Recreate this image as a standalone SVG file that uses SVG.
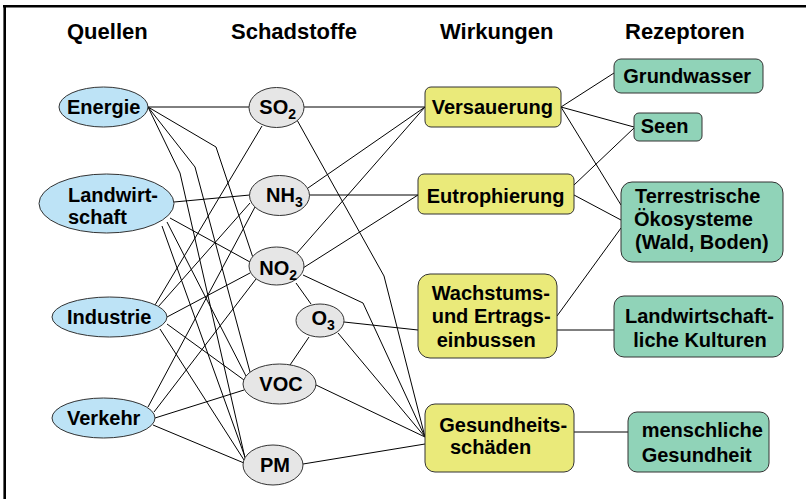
<svg xmlns="http://www.w3.org/2000/svg" width="811" height="499" viewBox="0 0 811 499">
<style>
text{font-family:"Liberation Sans",Arial,sans-serif;font-weight:bold;fill:#000}
.h{font-size:22px}
.t{font-size:20px}
.s{font-size:14px}
.src{fill:#bde3f6;stroke:#333;stroke-width:1}
.pol{fill:#e6e6e6;stroke:#333;stroke-width:1}
.eff{fill:#eaea7a;stroke:#333;stroke-width:1}
.rec{fill:#90d3b8;stroke:#333;stroke-width:1}
#connectors line,#connectors polyline{stroke:#000;stroke-width:1;fill:none}
</style>
<rect x="0" y="0" width="811" height="499" fill="#fff"/>
<g id="frame">
<line x1="3" y1="6.2" x2="806" y2="6.2" stroke="#000" stroke-width="2.6"/>
<line x1="4.7" y1="5" x2="4.7" y2="499" stroke="#000" stroke-width="2.6"/>
</g>
<g id="headers">
<text class="h" x="67" y="39">Quellen</text>
<text class="h" x="231" y="39">Schadstoffe</text>
<text class="h" x="440" y="39">Wirkungen</text>
<text class="h" x="625" y="39">Rezeptoren</text>
</g>
<g id="connectors">
<line x1="148" y1="107" x2="249" y2="107"/>
<polyline points="148,107 216,147 252.6,256.5"/>
<polyline points="148,107 195,167 250,372"/>
<polyline points="148,107 180,173 245,458"/>
<line x1="174" y1="202" x2="250" y2="195"/>
<line x1="170" y1="218" x2="250" y2="262"/>
<line x1="167" y1="222" x2="246" y2="376"/>
<line x1="162" y1="226" x2="245" y2="457"/>
<line x1="155" y1="305" x2="262" y2="126"/>
<line x1="158" y1="307" x2="250" y2="203"/>
<line x1="167" y1="317" x2="250" y2="273"/>
<line x1="167" y1="324" x2="244" y2="380"/>
<line x1="160" y1="329" x2="244" y2="460"/>
<line x1="148" y1="407" x2="255" y2="207"/>
<line x1="154" y1="412" x2="256" y2="279"/>
<line x1="155" y1="418" x2="244" y2="390"/>
<line x1="153" y1="425" x2="244" y2="463"/>
<line x1="304" y1="107" x2="425" y2="107"/>
<line x1="308" y1="188" x2="425" y2="107"/>
<line x1="297" y1="253" x2="425" y2="107"/>
<line x1="309" y1="195" x2="418" y2="195"/>
<line x1="303" y1="268" x2="418" y2="195"/>
<polyline points="297,120 384,276 425,437"/>
<polyline points="303,275 363,303 425,437"/>
<line x1="296" y1="283" x2="311" y2="304"/>
<line x1="290" y1="365" x2="309" y2="337"/>
<line x1="344" y1="322" x2="418" y2="330"/>
<line x1="338" y1="333" x2="425" y2="437"/>
<line x1="316" y1="385" x2="425" y2="437"/>
<line x1="303" y1="464" x2="425" y2="444"/>
<line x1="561" y1="107" x2="614" y2="73"/>
<line x1="561" y1="107" x2="634" y2="127"/>
<line x1="561" y1="107" x2="621" y2="205"/>
<line x1="574" y1="185" x2="634" y2="128"/>
<line x1="574" y1="195" x2="621" y2="220"/>
<line x1="557" y1="316" x2="621" y2="228"/>
<line x1="557" y1="330" x2="614" y2="330"/>
<line x1="574" y1="432" x2="628" y2="432"/>
</g>
<g id="energie"><ellipse class="src" cx="103.5" cy="107" rx="44.5" ry="20"/><text class="t" x="67" y="113.5">Energie</text></g>
<g id="landwirtschaft"><ellipse class="src" cx="106.5" cy="203.5" rx="67.5" ry="29.5"/><text class="t" x="68" y="202">Landwirt-</text><text class="t" x="68" y="224">schaft</text></g>
<g id="industrie"><ellipse class="src" cx="109.5" cy="317" rx="57.5" ry="20"/><text class="t" x="67" y="324">Industrie</text></g>
<g id="verkehr"><ellipse class="src" cx="103.5" cy="418" rx="51.5" ry="20"/><text class="t" x="67" y="425">Verkehr</text></g>
<g id="so2"><ellipse class="pol" cx="276.5" cy="107.5" rx="27.5" ry="20"/><text class="t" x="259.3" y="113.5">SO<tspan class="s" dy="5">2</tspan></text></g>
<g id="nh3"><ellipse class="pol" cx="279.5" cy="195.5" rx="30" ry="20"/><text class="t" x="266" y="201.7">NH<tspan class="s" dy="5">3</tspan></text></g>
<g id="no2"><ellipse class="pol" cx="276.5" cy="266" rx="27.5" ry="19"/><text class="t" x="259.3" y="275">NO<tspan class="s" dy="5">2</tspan></text></g>
<g id="o3"><ellipse class="pol" cx="320" cy="320.5" rx="24" ry="16.5"/><text class="t" x="311.5" y="325">O<tspan class="s" dy="5">3</tspan></text></g>
<g id="voc"><ellipse class="pol" cx="279.5" cy="384" rx="36.5" ry="20"/><text class="t" x="259.3" y="391">VOC</text></g>
<g id="pm"><ellipse class="pol" cx="273" cy="465" rx="30" ry="20"/><text class="t" x="260" y="471.5">PM</text></g>
<g id="versauerung"><rect class="eff" x="425" y="87" width="136" height="40" rx="6"/><text class="t" x="431.7" y="114">Versauerung</text></g>
<g id="eutrophierung"><rect class="eff" x="418" y="174" width="156" height="40" rx="6"/><text class="t" x="426.7" y="203">Eutrophierung</text></g>
<g id="wachstum"><rect class="eff" x="418" y="274" width="139" height="84" rx="12"/><text class="t" x="431.7" y="300">Wachstums-</text><text class="t" x="431.7" y="323.3">und Ertrags-</text><text class="t" x="436.7" y="346.7">einbussen</text></g>
<g id="gesundheitsschaeden"><rect class="eff" x="425" y="404" width="149" height="68" rx="10"/><text class="t" x="439.3" y="431.7">Gesundheits-</text><text class="t" x="450" y="454">schäden</text></g>
<g id="grundwasser"><rect class="rec" x="614" y="59" width="149" height="34" rx="7"/><text class="t" x="623.3" y="82.7">Grundwasser</text></g>
<g id="seen"><rect class="rec" x="634" y="113" width="68" height="28" rx="5"/><text class="t" x="640.7" y="133.3">Seen</text></g>
<g id="terrestrisch"><rect class="rec" x="621" y="182" width="162" height="80" rx="11"/><text class="t" x="635" y="202.7">Terrestrische</text><text class="t" x="634" y="226">Ökosysteme</text><text class="t" x="635" y="249.3">(Wald, Boden)</text></g>
<g id="landw-kulturen"><rect class="rec" x="614" y="296" width="169" height="61" rx="10"/><text class="t" x="625" y="323.3">Landwirtschaft-</text><text class="t" x="633.3" y="346.7">liche Kulturen</text></g>
<g id="menschliche-gesundheit"><rect class="rec" x="628" y="412" width="141" height="60" rx="9"/><text class="t" x="641.7" y="437.3">menschliche</text><text class="t" x="641.7" y="461.7">Gesundheit</text></g>
</svg>
